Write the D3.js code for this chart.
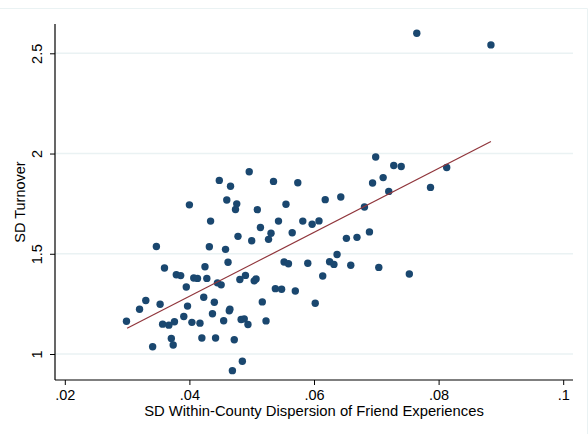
<!DOCTYPE html>
<html>
<head>
<meta charset="utf-8">
<script src="https://cdn.jsdelivr.net/npm/d3@7"></script>
<style>
  body { margin: 0; background: #fff; }
  text { font-family: "Liberation Sans", Arial, sans-serif; fill: #000; }
</style>
</head>
<body>
<div id="chart"></div>
<script>
/* Data */
const dispersion = [
  0.0299, 0.0320, 0.0330, 0.0341, 0.0347, 0.0353, 0.0357, 0.0360, 0.0367, 0.0371,
  0.0374, 0.0376, 0.0379, 0.0386, 0.0391, 0.0395, 0.0397, 0.0400, 0.0404, 0.0407,
  0.0413, 0.0417, 0.0420, 0.0423, 0.0425, 0.0428, 0.0432, 0.0434, 0.0437, 0.0440,
  0.0442, 0.0445, 0.0448, 0.0451, 0.0455, 0.0458, 0.0460, 0.0462, 0.0464, 0.0465,
  0.0466, 0.0469, 0.0472, 0.0474, 0.0476, 0.0478, 0.0481, 0.0483, 0.0488, 0.0485,
  0.0490, 0.0494, 0.0496, 0.0500, 0.0504, 0.0507, 0.0509, 0.0514, 0.0517, 0.0523,
  0.0527, 0.0531, 0.0535, 0.0538, 0.0543, 0.0548, 0.0552, 0.0555, 0.0559, 0.0565,
  0.0570, 0.0574, 0.0582, 0.0590, 0.0597, 0.0602, 0.0608, 0.0614, 0.0618, 0.0625,
  0.0632, 0.0637, 0.0643, 0.0652, 0.0659, 0.0669, 0.0681, 0.0689, 0.0694, 0.0699,
  0.0704, 0.0711, 0.0720, 0.0728, 0.0740, 0.0753, 0.0765, 0.0787, 0.0813, 0.0884
];
const turnover = [
  1.163, 1.223, 1.267, 1.036, 1.536, 1.248, 1.149, 1.429, 1.144, 1.077,
  1.045, 1.161, 1.395, 1.391, 1.187, 1.334, 1.239, 1.744, 1.158, 1.379,
  1.377, 1.154, 1.080, 1.283, 1.435, 1.377, 1.535, 1.663, 1.201, 1.258,
  1.080, 1.355, 1.866, 1.345, 1.166, 1.522, 1.768, 1.458, 1.216, 1.223,
  1.837, 0.917, 1.071, 1.721, 1.749, 1.587, 1.372, 1.172, 1.175, 0.964,
  1.392, 1.147, 1.909, 1.565, 1.365, 1.374, 1.720, 1.631, 1.260, 1.165,
  1.572, 1.602, 1.861, 1.326, 1.663, 1.323, 1.459, 1.747, 1.450, 1.605,
  1.314, 1.854, 1.663, 1.453, 1.647, 1.253, 1.664, 1.389, 1.770, 1.460,
  1.447, 1.496, 1.783, 1.577, 1.443, 1.582, 1.733, 1.609, 1.853, 1.983,
  1.432, 1.880, 1.811, 1.940, 1.935, 1.399, 2.600, 1.831, 1.930, 2.542
];

/* Fitted line end points */
const fitX = [0.0300, 0.0884];
const fitY = [1.128, 2.060];

const xTicks = [0.02, 0.04, 0.06, 0.08, 0.1];
const xTickLabels = ['.02', '.04', '.06', '.08', '.1'];
const yTicks = [1, 1.5, 2, 2.5];
const yTickLabels = ['1', '1.5', '2', '2.5'];

const xTitle = 'SD Within-County Dispersion of Friend Experiences';
const yTitle = 'SD Turnover';

/* Dimensions */
const width = 588, height = 434;
const plotLeft = 55, plotRight = 573, plotTop = 24, plotBottom = 380;

const x = d3.scaleLinear().domain([0.02, 0.1]).range([64.8, 563.2]);
const y = d3.scaleLinear().domain([1, 2.5]).range([354, 53.3]);

const svg = d3.select('#chart')
  .append('svg')
  .attr('width', width)
  .attr('height', height);

// outer frame (light)
svg.append('line')
  .attr('x1', 0).attr('x2', 587.5).attr('y1', 8.5).attr('y2', 8.5)
  .style('stroke', '#eaf2f3').style('stroke-width', 1);
svg.append('line')
  .attr('x1', 587.5).attr('x2', 587.5).attr('y1', 8.5).attr('y2', height)
  .style('stroke', '#eaf2f3').style('stroke-width', 1);

// gridlines
svg.append('g')
  .selectAll('line')
  .data(yTicks)
  .enter().append('line')
  .attr('x1', plotLeft)
  .attr('x2', plotRight)
  .attr('y1', d => y(d))
  .attr('y2', d => y(d))
  .style('stroke', '#eaf2f3')
  .style('stroke-width', 1.5);

// y axis
const yAxis = svg.append('g')
  .attr('transform', 'translate(' + plotLeft + ',0)')
  .call(d3.axisLeft(y).tickValues(yTicks).tickSize(5).tickPadding(6)
    .tickFormat((d, i) => yTickLabels[i]));
yAxis.select('.domain').remove();
yAxis.selectAll('.tick line').style('stroke', '#000');
yAxis.selectAll('.tick text')
  .attr('x', 0).attr('dy', 0)
  .attr('text-anchor', 'middle')
  .attr('transform', 'translate(-13,0) rotate(-90)')
  .style('font-size', '14.5px');
svg.append('line')
  .attr('x1', plotLeft).attr('x2', plotLeft)
  .attr('y1', plotTop).attr('y2', plotBottom)
  .style('stroke', '#000').style('stroke-width', 1.2);

// x axis
const xAxis = svg.append('g')
  .attr('transform', 'translate(0,' + plotBottom + ')')
  .call(d3.axisBottom(x).tickValues(xTicks).tickSize(5).tickPadding(5)
    .tickFormat((d, i) => xTickLabels[i]));
xAxis.select('.domain').remove();
xAxis.selectAll('.tick line').style('stroke', '#000');
xAxis.selectAll('.tick text').style('font-size', '14.5px');
svg.append('line')
  .attr('x1', plotLeft).attr('x2', plotRight)
  .attr('y1', plotBottom).attr('y2', plotBottom)
  .style('stroke', '#000').style('stroke-width', 1.2);

// titles
svg.append('text')
  .attr('x', (plotLeft + plotRight) / 2)
  .attr('y', 416)
  .attr('text-anchor', 'middle')
  .style('font-size', '14.8px')
  .text(xTitle);

svg.append('text')
  .attr('transform', 'translate(25,' + (plotTop + plotBottom) / 2 + ') rotate(-90)')
  .attr('text-anchor', 'middle')
  .style('font-size', '14.5px')
  .text(yTitle);

// points
const points = dispersion.map((d, i) => ({ x: d, y: turnover[i] }));
svg.append('g')
  .selectAll('circle')
  .data(points)
  .enter().append('circle')
  .attr('cx', d => x(d.x))
  .attr('cy', d => y(d.y))
  .attr('r', 3.7)
  .style('fill', '#1a476f');

// fitted line
svg.append('line')
  .attr('x1', x(fitX[0])).attr('y1', y(fitY[0]))
  .attr('x2', x(fitX[1])).attr('y2', y(fitY[1]))
  .style('stroke', '#90353b')
  .style('stroke-width', 1.2);
</script>
</body>
</html>
